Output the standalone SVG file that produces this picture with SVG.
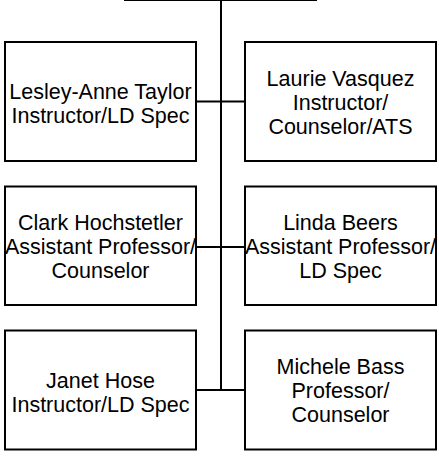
<svg xmlns="http://www.w3.org/2000/svg" width="439" height="458" viewBox="0 0 439 458">
<style>
.box{fill:#fff;stroke:#000;stroke-width:2}
.con{fill:none;stroke:#000;stroke-width:2}
text{font-family:"Liberation Sans",Arial,sans-serif;font-size:21.5px;fill:#000;text-anchor:middle}
</style>
<rect width="439" height="458" fill="#fff"/>
<g id="connectors">
<line class="con" x1="124" y1="0" x2="317" y2="0"/>
<line class="con" x1="221" y1="0" x2="221" y2="390"/>
<line class="con" x1="196" y1="101.5" x2="245" y2="101.5"/>
<line class="con" x1="196" y1="247" x2="245" y2="247"/>
<line class="con" x1="196" y1="390" x2="245" y2="390"/>
</g>
<g id="n1">
<rect class="box" x="5" y="42" width="191" height="119"/>
<text x="100.5" y="99">Lesley-Anne Taylor</text>
<text x="100.5" y="123">Instructor/LD Spec</text>
</g>
<g id="n2">
<rect class="box" x="245" y="42" width="191" height="119"/>
<text x="340.5" y="86">Laurie Vasquez</text>
<text x="340.5" y="110">Instructor/</text>
<text x="340.5" y="134">Counselor/ATS</text>
</g>
<g id="n3">
<rect class="box" x="5" y="186.5" width="191" height="118.5"/>
<text x="100.5" y="229.5">Clark Hochstetler</text>
<text x="100.5" y="253.5">Assistant Professor/</text>
<text x="100.5" y="277.5">Counselor</text>
</g>
<g id="n4">
<rect class="box" x="245" y="186.5" width="191" height="118.5"/>
<text x="340.5" y="229.5">Linda Beers</text>
<text x="340.5" y="253.5">Assistant Professor/</text>
<text x="340.5" y="277.5">LD Spec</text>
</g>
<g id="n5">
<rect class="box" x="5" y="330.5" width="191" height="119"/>
<text x="100.5" y="387.5">Janet Hose</text>
<text x="100.5" y="411.5">Instructor/LD Spec</text>
</g>
<g id="n6">
<rect class="box" x="245" y="330.5" width="191" height="119"/>
<text x="340.5" y="374">Michele Bass</text>
<text x="340.5" y="398">Professor/</text>
<text x="340.5" y="422">Counselor</text>
</g>
</svg>
